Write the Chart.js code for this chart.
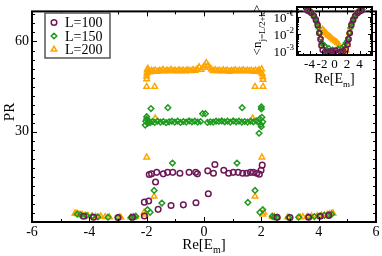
<!DOCTYPE html>
<html>
<head>
<meta charset="utf-8">
<script src="https://cdn.jsdelivr.net/npm/chart.js@4.4.1/dist/chart.umd.min.js"></script>
<style>
  html, body { margin: 0; padding: 0; background: #fff; }
  #wrap { position: relative; width: 382px; height: 256px; }
  #main { position: absolute; left: 0; top: 0; }
  #inset { position: absolute; left: 250px; top: 0; }
</style>
</head>
<body>
<div id="wrap">
  <canvas id="main" width="382" height="256" style="width:382px;height:256px"></canvas>
  <canvas id="inset" width="132" height="92" style="width:132px;height:92px"></canvas>
</div>
<script>
// ---- main panel: PR vs Re[E_m] ----
const prX100 = [-4.2, -3.85, -3.0, -2.5, -2.08, -2.08, -1.93, -1.6, -1.15, -0.72, -0.28, 0.15, -1.69,
  -1.91, -1.83, -1.65, -1.42, -1.27, -1.09, -0.84, -0.52, -0.29, -0.23, 0.13, 0.33, 0.38, 0.69, 0.86,
  1.02, 1.19, 1.35, 1.49, 1.62, 1.72, 1.84, 1.93, 1.99, 2.03, 2.55, 3.0, 3.65, 4.05, 4.35];
const prY100 = [1.9, 1.6, 1.5, 1.6, 2.0, 6.6, 7.0, 4.2, 5.5, 5.7, 6.4, 9.4, 13.3,
  15.8, 16.0, 16.5, 16.0, 16.5, 16.5, 16.2, 16.5, 16.5, 16.0, 17.0, 16.2, 19.1, 17.2, 16.2,
  16.5, 16.5, 16.2, 16.2, 16.5, 16.5, 16.2, 15.9, 17.2, 18.9, 1.6, 1.5, 1.6, 1.9, 2.2];

const prX150 = [-4.42, -4.3, -4.1, -3.9, -3.7, -3.35, -3.0, -2.55, -2.45, -2.38,
  -1.97, -1.88, -1.74, -1.47, -1.1, -2.0, -1.85, -1.26,
  -2.05, -2.03, -2.0, -1.97, -1.93, -1.88, -1.8, -1.72, -1.62, -1.52, -1.42, -1.32, -1.22, -1.12,
  -1.02, -0.92, -0.82, -0.72, -0.62, -0.52, -0.42, -0.32, -0.22, -0.12, -0.05, 0.05,
  0.12, 0.22, 0.32, 0.42, 0.52, 0.62, 0.72, 0.82, 0.92, 1.02, 1.12, 1.22, 1.32, 1.42, 1.52, 1.62,
  1.72, 1.82, 1.9, 1.95, 1.98, 2.0, 2.02, 2.05, 1.92,
  1.33, 2.0, 2.0, 1.15, 1.78, 1.53, 1.95, 2.05,
  2.38, 2.45, 2.55, 2.95, 3.3, 3.65, 3.85, 4.05, 4.2, 4.35, 4.45];
const prY150 = [2.6, 2.4, 2.1, 1.9, 1.7, 1.6, 1.5, 1.5, 1.7, 1.9,
  4.1, 3.2, 10.5, 6.3, 19.6, 35.0, 37.7, 38.0,
  32.2, 33.5, 34.2, 32.8, 33.6, 33.0, 33.4, 33.1, 33.5, 33.2, 33.4, 33.0, 33.3, 33.5,
  33.2, 33.5, 33.1, 33.4, 33.2, 33.6, 33.3, 33.5, 33.2, 33.4, 36.0, 36.0,
  33.1, 33.3, 33.2, 33.5, 33.4, 33.6, 33.3, 33.5, 33.2, 33.6, 33.3, 33.5, 33.2, 33.4, 33.2, 33.5,
  33.3, 33.6, 33.2, 34.3, 32.4, 31.7, 34.8, 33.3, 29.5,
  38.0, 38.3, 37.6, 19.6, 10.5, 6.5, 3.2, 4.1,
  1.9, 1.7, 1.5, 1.5, 1.6, 1.7, 1.8, 2.0, 2.2, 2.4, 2.6];

const prX200 = [-4.5, -4.46, -4.4, -4.33, -4.25, -4.15, -4.05, -3.9, -3.78, -3.6, -3.45, -3.3, -2.95, -2.9,
  -2.55, -2.45, -2.38, -2.09, -2.05, -1.74, -2.0, -1.7, -2.0, -1.72,
  -2.0, -2.0, -1.99, -1.98, -1.96, -1.93, -1.88, -1.83, -1.77, -1.7, -1.63, -1.56, -1.5, -1.43, -1.36,
  -1.29, -1.22, -1.15, -1.08, -1.01, -0.94, -0.87, -0.8, -0.73, -0.66, -0.59, -0.52, -0.45, -0.38,
  -0.31, -0.24, -0.17, -0.1, -0.03, 0.02, 0.08, 0.14, 0.2, 0.26, 0.32, 0.39, 0.46, 0.53, 0.6, 0.67,
  0.74, 0.81, 0.88, 0.95, 1.02, 1.09, 1.16, 1.23, 1.3, 1.37, 1.44, 1.51, 1.58, 1.65, 1.72, 1.79,
  1.86, 1.92, 1.97, 2.01, 2.03, 2.05, 2.06,
  1.78, 2.06, 1.7, 2.02, 1.78, 2.09, 2.05,
  2.38, 2.45, 2.55, 2.92, 2.97, 3.35, 3.45, 3.6, 3.75, 3.95, 4.1, 4.2, 4.3, 4.38, 4.45, 4.5];
const prY200 = [2.9, 2.8, 2.7, 2.5, 2.4, 2.2, 2.1, 1.9, 1.8, 1.9, 1.7, 1.6, 1.6, 1.5,
  1.6, 1.7, 1.8, 3.2, 2.5, 8.5, 21.5, 34.5, 45.0, 45.0,
  47.5, 48.5, 49.5, 50.5, 51.0, 50.0, 49.8, 50.3, 50.1, 50.4, 50.0, 50.3, 50.2, 50.6, 50.1,
  50.4, 50.2, 50.6, 50.2, 50.4, 50.1, 50.5, 50.2, 50.4, 50.1, 50.5, 50.3, 50.2, 50.6,
  50.3, 50.8, 51.5, 50.6, 51.3, 52.0, 52.9, 52.0, 51.3, 50.7, 50.2, 50.5, 50.2, 50.4, 50.1, 50.5,
  50.2, 50.4, 50.0, 50.3, 50.2, 50.5, 50.1, 50.4, 50.2, 50.5, 50.1, 50.4, 50.2, 50.3, 50.0, 50.4,
  50.1, 50.5, 49.8, 50.8, 49.2, 48.2, 47.3,
  45.0, 45.0, 34.5, 21.5, 8.5, 3.2, 2.5,
  1.8, 1.7, 1.5, 1.6, 1.5, 1.6, 1.7, 1.8, 1.9, 2.0, 2.2, 2.3, 2.5, 2.6, 2.8, 2.9];

const mainXTicks = [-6, -4, -2, 0, 2, 4, 6];
const mainYTicks = [30, 60];

// ---- inset: <n_{j=L/2+k}> vs Re[E_m] ----
const inX100 = [-4.35, -4.0, -3.7, -3.3, -3.0, -2.7, -2.45, -2.25, -2.1, -1.9, -1.5, -1.1, -0.7, -0.3,
  0.15, 0.6, 1.0, 1.4, 1.8, 2.1, 2.25, 2.45, 2.7, 3.0, 3.3, 3.7, 4.0, 4.35];
const inY100 = [0.25, 0.22, 0.18, 0.12, 0.07, 0.035, 0.012, 0.005, 0.0022, 0.0012, 0.0009, 0.0008, 0.001, 0.0009,
  0.0011, 0.0008, 0.0009, 0.001, 0.0013, 0.0025, 0.005, 0.012, 0.035, 0.07, 0.12, 0.18, 0.22, 0.25];
const inX150 = [-4.45, -4.2, -3.95, -3.7, -3.4, -3.1, -2.85, -2.6, -2.4, -2.2, -2.05, -1.8, -1.5, -1.2, -0.9,
  -0.6, -0.3, 0, 0.3, 0.6, 0.9, 1.2, 1.5, 1.8, 2.05, 2.2, 2.4, 2.6, 2.85, 3.1, 3.4, 3.7, 3.95, 4.2, 4.45];
const inY150 = [0.28, 0.25, 0.22, 0.19, 0.14, 0.09, 0.05, 0.025, 0.012, 0.006, 0.003, 0.0025, 0.002, 0.0012, 0.0015,
  0.001, 0.0012, 0.0009, 0.0011, 0.0014, 0.001, 0.0015, 0.002, 0.003, 0.004, 0.006, 0.012, 0.025, 0.05, 0.09,
  0.14, 0.19, 0.22, 0.25, 0.28];
const inX200 = [-4.5, -4.3, -4.1, -3.9, -3.7, -3.5, -3.3, -3.1, -2.9, -2.7, -2.5, -2.35, -2.2, -2.05,
  -1.9, -1.7, -1.5, -1.3, -1.1, -0.9, -0.7, -0.5, -0.3, -0.1, 0.1, 0.3, 0.5, 0.7, 1.0, 1.3, 1.6, 1.9,
  2.05, 2.2, 2.35, 2.5, 2.7, 2.9, 3.1, 3.3, 3.5, 3.7, 3.9, 4.1, 4.3, 4.5];
const inY200 = [0.3, 0.28, 0.26, 0.24, 0.21, 0.18, 0.15, 0.11, 0.075, 0.045, 0.025, 0.012, 0.006, 0.0025,
  0.02, 0.016, 0.013, 0.011, 0.009, 0.008, 0.007, 0.006, 0.005, 0.0045, 0.004, 0.0035, 0.003, 0.0025,
  0.0012, 0.001, 0.0009, 0.0011,
  0.0025, 0.006, 0.012, 0.025, 0.045, 0.075, 0.11, 0.15, 0.18, 0.21, 0.24, 0.26, 0.28, 0.3];
const inXTicks = [-4, -2, 0, 2, 4];
const inYDecades = [-3, -2, -1];

const labels = ['L=100', 'L=150', 'L=200'];
const PURPLE = '#6e1858', GREEN = '#1f9a1f', ORANGE = '#ffa500';
const SERIF = '"Liberation Serif", "DejaVu Serif", serif';

function pts(xs, ys) { return xs.map((x, i) => ({ x: x, y: ys[i] })); }

function ds(label, xs, ys, color, style, r) {
  return {
    label: label, data: pts(xs, ys), pointStyle: style, pointRadius: r,
    borderColor: color, backgroundColor: 'rgba(0,0,0,0)', pointBorderWidth: 1.5, showLine: false
  };
}

// text with sub/superscript pieces: [text, size, dy]
function richText(ctx, parts, x, y, angle) {
  ctx.save();
  ctx.translate(x, y);
  if (angle) ctx.rotate(angle);
  let w = 0;
  parts.forEach(p => { ctx.font = p[1] + 'px ' + SERIF; w += ctx.measureText(p[0]).width; });
  let cx = -w / 2;
  ctx.fillStyle = '#000';
  ctx.textBaseline = 'alphabetic';
  ctx.textAlign = 'left';
  parts.forEach(p => {
    ctx.font = p[1] + 'px ' + SERIF;
    ctx.fillText(p[0], cx, p[2]);
    cx += ctx.measureText(p[0]).width;
  });
  ctx.restore();
}

// frame with inward ticks on all four sides
const frameTicks = {
  id: 'frameTicks',
  afterDatasetsDraw(chart, args, o) {
    const { ctx, chartArea: a, scales } = chart;
    ctx.save();
    ctx.strokeStyle = '#000';
    ctx.lineWidth = 1;
    const tx = (v, len) => {
      const p = Math.round(scales.x.getPixelForValue(v)) + 0.5;
      ctx.beginPath();
      ctx.moveTo(p, a.bottom); ctx.lineTo(p, a.bottom - len);
      ctx.moveTo(p, a.top); ctx.lineTo(p, a.top + len);
      ctx.stroke();
    };
    const ty = (v, len) => {
      const p = Math.round(scales.y.getPixelForValue(v)) + 0.5;
      ctx.beginPath();
      ctx.moveTo(a.left, p); ctx.lineTo(a.left + len, p);
      ctx.moveTo(a.right, p); ctx.lineTo(a.right - len, p);
      ctx.stroke();
    };
    o.xMajor.forEach(v => tx(v, o.major));
    o.xMinor.forEach(v => tx(v, o.minor));
    o.yMajor.forEach(v => ty(v, o.major));
    o.yMinor.forEach(v => ty(v, o.minor));
    ctx.lineWidth = 2;
    ctx.strokeRect(a.left, a.top, a.right - a.left, a.bottom - a.top);
    ctx.restore();
  }
};

const mainDecor = {
  id: 'mainDecor',
  afterDraw(chart) {
    const ctx = chart.ctx;
    const a = chart.chartArea;
    richText(ctx, [['Re[E', 15, 0], ['m', 10, 4], [']', 15, 0]], (a.left + a.right) / 2, 249, 0);
    richText(ctx, [['PR', 15, 0]], 14, 112, -Math.PI / 2);
    // legend box
    ctx.save();
    ctx.strokeStyle = '#555';
    ctx.lineWidth = 1.5;
    ctx.fillStyle = '#fff';
    ctx.fillRect(45, 13, 65, 45);
    ctx.strokeRect(45, 13, 65, 45);
    chart.data.datasets.forEach((d, i) => {
      const y = 22.5 + i * 13.5;
      ctx.strokeStyle = d.borderColor;
      ctx.fillStyle = 'rgba(0,0,0,0)';
      ctx.lineWidth = 1.5;
      Chart.helpers.drawPoint(ctx, {
        pointStyle: d.pointStyle, radius: d.pointRadius, borderWidth: 1.5
      }, 54, y);
      ctx.fillStyle = '#000';
      ctx.font = '14px ' + SERIF;
      ctx.textBaseline = 'middle';
      ctx.textAlign = 'left';
      ctx.fillText(d.label, 65, y + 1);
    });
    ctx.restore();
  }
};

const mainChart = new Chart(document.getElementById('main'), {
  type: 'scatter',
  data: {
    datasets: [
      ds(labels[0], prX100, prY100, PURPLE, 'circle', 2.8),
      ds(labels[1], prX150, prY150, GREEN, 'rectRot', 2.8),
      ds(labels[2], prX200, prY200, ORANGE, 'triangle', 3.2)
    ]
  },
  options: {
    responsive: false,
    animation: false,
    layout: { padding: { top: 1, right: 6, left: 0, bottom: 0 } },
    plugins: {
      legend: { display: false },
      tooltip: { enabled: false },
      frameTicks: {
        major: 5, minor: 3,
        xMajor: mainXTicks, xMinor: [-5, -3, -1, 1, 3, 5],
        yMajor: [0, 30, 60], yMinor: [3, 6, 9, 12, 15, 18, 21, 24, 27, 33, 36, 39, 42, 45, 48, 51, 54, 57, 63, 66, 69]
      }
    },
    scales: {
      x: {
        type: 'linear', min: -6, max: 6,
        afterFit(s) { s.height = 34; },
        afterBuildTicks(s) { s.ticks = mainXTicks.map(v => ({ value: v })); },
        grid: { display: false, drawTicks: false },
        border: { display: false },
        ticks: { autoSkip: false, maxRotation: 0, padding: 2, color: '#000', font: { family: SERIF, size: 14 } }
      },
      y: {
        type: 'linear', min: 0, max: 70,
        afterFit(s) { s.width = 32; },
        afterBuildTicks(s) { s.ticks = mainYTicks.map(v => ({ value: v })); },
        grid: { display: false, drawTicks: false },
        border: { display: false },
        ticks: { padding: 3, color: '#000', font: { family: SERIF, size: 14 } }
      }
    }
  },
  plugins: [frameTicks, mainDecor]
});

const insetDecor = {
  id: 'insetDecor',
  afterDraw(chart) {
    const ctx = chart.ctx;
    const a = chart.chartArea;
    const ys = chart.scales.y;
    inYDecades.forEach(e => {
      const p = ys.getPixelForValue(Math.pow(10, e));
      ctx.save();
      ctx.fillStyle = '#000';
      ctx.textBaseline = 'alphabetic';
      ctx.textAlign = 'left';
      ctx.font = '9px ' + SERIF;
      const sw = ctx.measureText(String(e)).width;
      ctx.font = '13px ' + SERIF;
      const bw = ctx.measureText('10').width;
      const x0 = a.left - 3 - sw - bw;
      ctx.fillText('10', x0, p + 5);
      ctx.font = '9px ' + SERIF;
      ctx.fillText(String(e), x0 + bw, p - 1);
      ctx.restore();
    });
    richText(ctx, [['Re[E', 14, 0], ['m', 9, 4], [']', 14, 0]], (a.left + a.right) / 2, 83, 0);
    richText(ctx, [['<n', 13, 0], ['j=L/2+k', 9, 4], ['>', 13, 0]], 11, 30, -Math.PI / 2);
  }
};

const insetChart = new Chart(document.getElementById('inset'), {
  type: 'scatter',
  data: {
    datasets: [
      ds(labels[0], inX100, inY100, PURPLE, 'circle', 2.5),
      ds(labels[1], inX150, inY150, GREEN, 'rectRot', 2.5),
      ds(labels[2], inX200, inY200, ORANGE, 'triangle', 2.8)
    ]
  },
  options: {
    responsive: false,
    animation: false,
    layout: { padding: { top: 7, right: 10, left: 0, bottom: 0 } },
    plugins: {
      legend: { display: false },
      tooltip: { enabled: false },
      frameTicks: {
        major: 4, minor: 2,
        xMajor: inXTicks, xMinor: [-5, -3, -1, 1, 3, 5],
        yMajor: [0.001, 0.01, 0.1],
        yMinor: [0.0007, 0.0008, 0.0009, 0.002, 0.003, 0.004, 0.005, 0.006, 0.007, 0.008, 0.009,
          0.02, 0.03, 0.04, 0.05, 0.06, 0.07, 0.08, 0.09, 0.2, 0.3]
      }
    },
    scales: {
      x: {
        type: 'linear', min: -6, max: 6,
        afterFit(s) { s.height = 37; },
        afterBuildTicks(s) { s.ticks = inXTicks.map(v => ({ value: v })); },
        grid: { display: false, drawTicks: false },
        border: { display: false },
        ticks: { autoSkip: false, maxRotation: 0, padding: 2, color: '#000', font: { family: SERIF, size: 13 } }
      },
      y: {
        type: 'logarithmic', min: 0.0006, max: 0.4,
        afterFit(s) { s.width = 47; },
        grid: { display: false, drawTicks: false },
        border: { display: false },
        ticks: { display: false }
      }
    }
  },
  plugins: [frameTicks, insetDecor]
});
</script>
</body>
</html>
